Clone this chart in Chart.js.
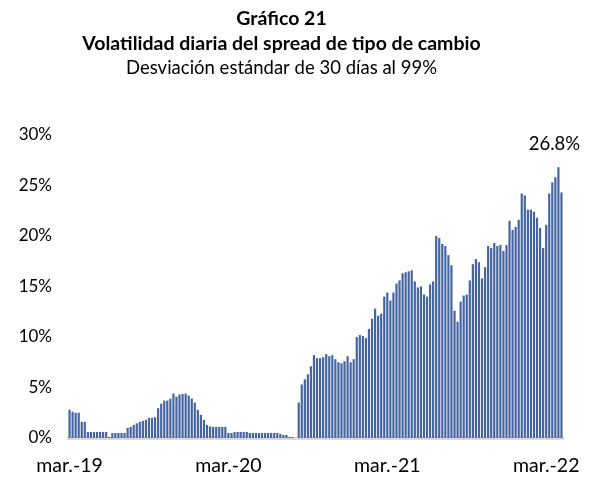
<!DOCTYPE html>
<html>
<head>
<meta charset="utf-8">
<script src="https://cdn.jsdelivr.net/npm/chart.js@4"></script>
<style>
  html, body { margin: 0; padding: 0; background: #ffffff; }
  #wrap { width: 603px; height: 480px; position: relative; }
</style>
</head>
<body>
<div id="wrap"><canvas id="c" width="603" height="480"></canvas></div>
<script>
// ---- data (weekly observations, % volatility) ----
const titleLines = ['Gráfico 21', 'Volatilidad diaria del spread de tipo de cambio'];
const subtitleText = 'Desviación estándar de 30 días al 99%';
const startDate = '2019-03-01';
const values = [
  2.8, 2.6, 2.5, 2.5,
  1.6, 1.6,
  0.6, 0.6, 0.6, 0.6, 0.6, 0.6, 0.6,
  0.1, 0.5,
  0.5, 0.5, 0.5, 0.5,
  1.0, 1.1, 1.3, 1.45, 1.6, 1.7, 1.8, 2.0, 2.0, 2.05,
  2.95, 3.4, 3.7, 3.7, 3.9, 4.4, 4.1, 4.3, 4.35, 4.4, 4.2, 3.9, 3.5,
  2.8, 2.3, 1.8, 1.3, 1.15, 1.1, 1.1, 1.1, 1.1, 1.1,
  0.5, 0.5, 0.6, 0.6, 0.6, 0.6, 0.6, 0.5, 0.5, 0.5, 0.5, 0.5, 0.5, 0.5, 0.5, 0.5, 0.5,
  0.4, 0.3, 0.3, 0.1, 0.1, 0.0,
  3.5, 5.3, 5.8, 6.3, 7.1, 8.2, 7.9, 7.9, 8.0, 8.3, 8.1, 8.2, 7.8, 7.5, 7.4, 7.6, 8.1, 7.5, 7.8,
  10.0, 10.2, 10.1, 9.9, 10.8, 11.8, 12.8, 12.1, 12.3, 14.0, 14.4, 13.6, 14.4, 15.3, 15.6, 16.3,
  16.4, 16.5, 16.6, 15.5, 14.9, 15.0, 14.2, 14.0, 15.2, 15.5,
  20.0, 19.8, 19.2, 19.0, 18.1, 17.1, 12.6, 11.5, 13.5, 14.1, 14.2, 15.6, 17.2, 17.7, 17.4, 15.8,
  16.9, 19.0, 18.8, 19.3, 19.0, 19.1, 18.5, 19.1,
  21.5, 20.6, 20.9, 21.6, 24.2, 24.0, 22.6, 22.6, 22.4, 21.8, 20.8, 18.8, 21.1, 24.2, 25.3, 25.8,
  26.8, 24.3
];
const tickLabels = ['mar.-19', 'mar.-20', 'mar.-21', 'mar.-22'];
const tickIndices = [0, 52, 104, 156];
const yTicks = [0, 5, 10, 15, 20, 25, 30];

// weekly category labels
const categories = values.map((_, i) => {
  const d = new Date(startDate + 'T00:00:00Z');
  d.setUTCDate(d.getUTCDate() + 7 * i);
  return d.toISOString().slice(0, 10);
});

const FONT = 'Lato, Carlito, Calibri, "Noto Sans", sans-serif';

const maxLabelPlugin = {
  id: 'maxLabel',
  afterDatasetsDraw(chart) {
    const ds = chart.data.datasets[0].data;
    let mi = 0;
    ds.forEach((v, i) => { if (v > ds[mi]) mi = i; });
    const el = chart.getDatasetMeta(0).data[mi];
    const y = chart.scales.y.getPixelForValue(ds[mi]);
    const ctx = chart.ctx;
    ctx.save();
    ctx.font = '18.5px ' + FONT;
    ctx.fillStyle = '#000000';
    ctx.textAlign = 'center';
    ctx.textBaseline = 'middle';
    ctx.fillText(ds[mi].toFixed(1) + '%', el.x - 4, y - 23);
    ctx.restore();
  }
};

new Chart(document.getElementById('c'), {
  type: 'bar',
  data: {
    labels: categories,
    datasets: [{
      data: values,
      backgroundColor: '#4565a1',
      borderWidth: 0,
      barPercentage: 0.72,
      categoryPercentage: 1.0
    }]
  },
  options: {
    responsive: false,
    animation: false,
    devicePixelRatio: 1,
    layout: { padding: { left: 0, right: 40, top: 4, bottom: 0 } },
    plugins: {
      legend: { display: false },
      tooltip: { enabled: false },
      title: {
        display: true,
        text: titleLines,
        color: '#000000',
        font: { family: FONT, size: 19.5, weight: 'bold', lineHeight: 1.28 },
        padding: { top: 2, bottom: 0 }
      },
      subtitle: {
        display: true,
        text: subtitleText,
        color: '#000000',
        font: { family: FONT, size: 18.5, weight: 'normal', lineHeight: 1.35 },
        padding: { top: 0, bottom: 54 }
      }
    },
    scales: {
      x: {
        type: 'category',
        grid: { display: false, drawTicks: false },
        border: { display: true, color: '#d9d9d9', width: 3 },
        afterFit: function (scale) { scale.height = 42; },
        ticks: {
          autoSkip: false,
          maxRotation: 0,
          minRotation: 0,
          padding: 16,
          color: '#000000',
          font: { family: FONT, size: 19.5 },
          callback: function (value, index) {
            const k = tickIndices.indexOf(index);
            return k >= 0 ? tickLabels[k] : '';
          }
        }
      },
      y: {
        min: 0,
        max: 30,
        grid: { display: false, drawTicks: false },
        border: { display: false },
        afterBuildTicks: function (scale) {
          scale.ticks = yTicks.map(v => ({ value: v }));
        },
        afterFit: function (scale) { scale.width = 68; },
        ticks: {
          padding: 16,
          color: '#000000',
          font: { family: FONT, size: 17 },
          callback: function (value) { return value + '%'; }
        }
      }
    }
  },
  plugins: [maxLabelPlugin]
});
</script>
</body>
</html>
